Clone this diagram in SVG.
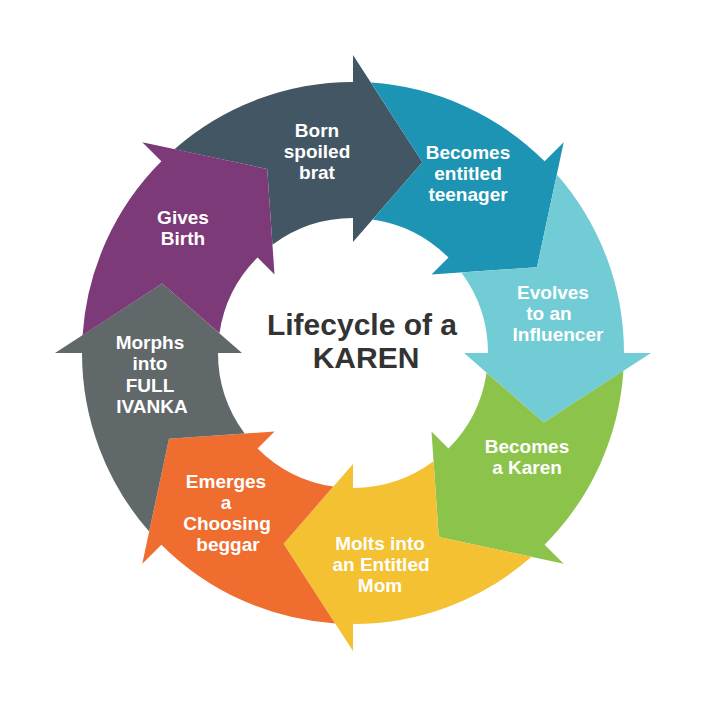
<svg xmlns="http://www.w3.org/2000/svg" xmlns:xlink="http://www.w3.org/1999/xlink" width="707" height="707" viewBox="0 0 707 707">
<style>
.lbl{font-family:"Liberation Sans",Arial,sans-serif;font-weight:bold;font-size:19px;fill:#ffffff;text-anchor:middle}
.title{font-family:"Liberation Sans",Arial,sans-serif;font-weight:bold;font-size:30px;fill:#333333;text-anchor:middle}
</style>
<defs>
<path id="seg" d="M623.41,370.87 A271,271 0 0 1 544.63,544.63 L563.72,563.72 L438.79,536.98 L431.49,431.49 L448.46,448.46 A135,135 0 0 0 486.56,372.65 L543.76,422.43 Z"/>
</defs>
<rect width="707" height="707" fill="#ffffff"/>
<g id="born">
<use href="#seg" xlink:href="#seg" transform="rotate(225 353 353)" fill="#435664"/>
<text class="lbl"><tspan x="317" y="137">Born</tspan><tspan x="317" y="158">spoiled</tspan><tspan x="317" y="179">brat</tspan></text>
</g>
<g id="teen">
<use href="#seg" xlink:href="#seg" transform="rotate(270 353 353)" fill="#1E94B5"/>
<text class="lbl"><tspan x="468" y="159">Becomes</tspan><tspan x="468" y="180">entitled</tspan><tspan x="468" y="201">teenager</tspan></text>
</g>
<g id="influencer">
<use href="#seg" xlink:href="#seg" transform="rotate(315 353 353)" fill="#72CCD6"/>
<text class="lbl"><tspan x="553" y="299">Evolves</tspan><tspan x="549" y="320">to an</tspan><tspan x="558" y="341">Influencer</tspan></text>
</g>
<g id="karen">
<use href="#seg" xlink:href="#seg" transform="rotate(0 353 353)" fill="#8CC34B"/>
<text class="lbl"><tspan x="527" y="453">Becomes</tspan><tspan x="527" y="474">a Karen</tspan></text>
</g>
<g id="mom">
<use href="#seg" xlink:href="#seg" transform="rotate(45 353 353)" fill="#F4C132"/>
<text class="lbl"><tspan x="380" y="550">Molts into</tspan><tspan x="381" y="571">an Entitled</tspan><tspan x="380" y="592">Mom</tspan></text>
</g>
<g id="beggar">
<use href="#seg" xlink:href="#seg" transform="rotate(90 353 353)" fill="#EE6D2F"/>
<text class="lbl"><tspan x="226" y="488">Emerges</tspan><tspan x="226" y="509">a</tspan><tspan x="227" y="530">Choosing</tspan><tspan x="228" y="551">beggar</tspan></text>
</g>
<g id="ivanka">
<use href="#seg" xlink:href="#seg" transform="rotate(135 353 353)" fill="#606869"/>
<text class="lbl"><tspan x="150" y="349">Morphs</tspan><tspan x="150" y="370">into</tspan><tspan x="150" y="392">FULL</tspan><tspan x="152" y="413">IVANKA</tspan></text>
</g>
<g id="birth">
<use href="#seg" xlink:href="#seg" transform="rotate(180 353 353)" fill="#7D3A78"/>
<text class="lbl"><tspan x="183" y="224">Gives</tspan><tspan x="183" y="245">Birth</tspan></text>
</g>
<g id="center">
<text class="title"><tspan x="362" y="335">Lifecycle of a</tspan><tspan x="366" y="368">KAREN</tspan></text>
</g>
<g id="connectors"></g>
</svg>
